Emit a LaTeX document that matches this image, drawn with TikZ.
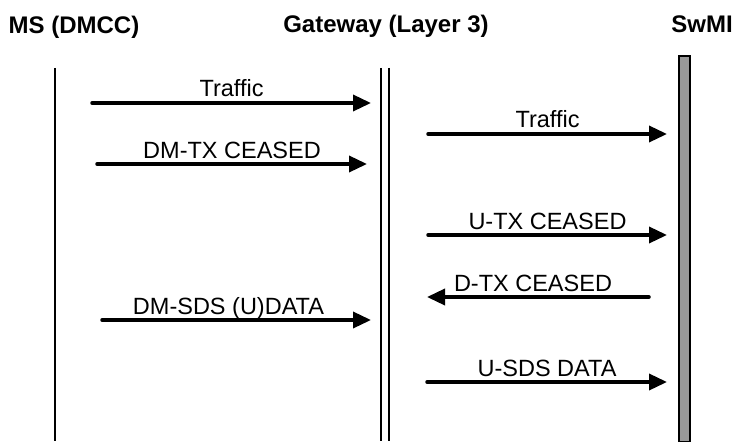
\documentclass[tikz,border=0pt]{standalone}
\usepackage{fontspec}
\setmainfont{Liberation Sans}
\usetikzlibrary{arrows.meta}

\begin{document}
\begin{tikzpicture}[x=1pt, y=-1pt,
    hdr/.style={font=\fontsize{24}{28}\selectfont\bfseries, inner sep=0pt, anchor=base},
    lbl/.style={font=\fontsize{23.5}{28}\selectfont, inner sep=0pt, anchor=base, yshift=6pt},
    msg/.style={line width=3.5pt, line cap=round, -{Triangle[length=18pt,width=16pt]}},
    life/.style={line width=1.5pt}]
    \useasboundingbox (0,0) rectangle (735,441);
    \node[hdr] (ms) at (74,34) {MS (DMCC)};
    \node[hdr] (gw) at (386,33) {Gateway (Layer 3)};
    \node[hdr] (swmi) at (702,33) {SwMI};
    \draw[life] (55,68) -- (55,441);
    \draw[life] (381,68) -- (381,441);
    \draw[life] (389,68) -- (389,441);
    \draw[line width=1.5pt, fill=black!40] (679,56) rectangle (690,442);
    \coordinate (m1a) at (92,103);  \coordinate (m1b) at (371,103);
    \coordinate (m2a) at (97,164);  \coordinate (m2b) at (367,164);
    \coordinate (m3a) at (428,134); \coordinate (m3b) at (667,134);
    \coordinate (m4a) at (428,235); \coordinate (m4b) at (667,235);
    \coordinate (m5a) at (649,297); \coordinate (m5b) at (427,297);
    \coordinate (m6a) at (102,320); \coordinate (m6b) at (371,320);
    \coordinate (m7a) at (427,382); \coordinate (m7b) at (667,382);
    \path[draw, msg] (m1a) -- node[lbl] {Traffic} (m1b);
    \path[draw, msg] (m2a) -- node[lbl] {DM-TX CEASED} (m2b);
    \path[draw, msg] (m3a) -- node[lbl] {Traffic} (m3b);
    \path[draw, msg] (m4a) -- node[lbl] {U-TX CEASED} (m4b);
    \path[draw, msg] (m5a) -- node[lbl, xshift=-5pt] {D-TX CEASED} (m5b);
    \path[draw, msg] (m6a) -- node[lbl, xshift=-8pt] {DM-SDS (U)DATA} (m6b);
    \path[draw, msg] (m7a) -- node[lbl] {U-SDS DATA} (m7b);
\end{tikzpicture}
\end{document}
